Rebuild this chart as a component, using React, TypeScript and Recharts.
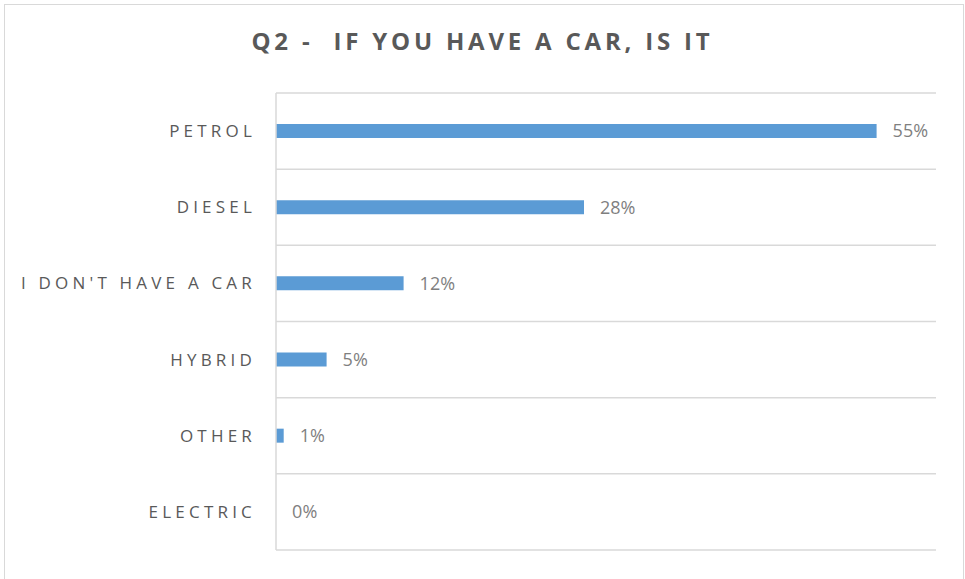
import { BarChart, Bar, XAxis, YAxis, CartesianGrid, LabelList, Cell } from 'recharts'

const categories = ['PETROL', 'DIESEL', "I DON'T HAVE A CAR", 'HYBRID', 'OTHER', 'ELECTRIC']
const shares = [54.6, 28.0, 11.6, 4.6, 0.7, 0]
const valueDomain = [0, 60]

const data = categories.map((name, i) => ({ name, share: shares[i] }))

const FONT = '"Open Sans", "Liberation Sans", sans-serif'

const CategoryTick = (props: any) => {
  const { x, y, payload } = props
  return (
    <text
      x={x - 12}
      y={y}
      dy={6}
      textAnchor="end"
      fill="#595959"
      fontSize={17}
      fontFamily={FONT}
      letterSpacing={4.2}
    >
      {payload.value}
    </text>
  )
}

// band boundaries, one line above and below each category
const bandLines = ({ offset }: any) =>
  [...categories.map((_, i) => i), categories.length].map(
    (i) => offset.top + (i * offset.height) / categories.length
  )

export default function App() {
  return (
    <div style={{ position: 'absolute', left: 0, top: 0, width: 965, height: 579, background: '#fff', overflow: 'hidden' }}>
      <div
        style={{
          position: 'absolute',
          left: 4,
          top: 4,
          width: 958,
          height: 590,
          border: '1px solid #d9d9d9',
        }}
      />
      <div
        style={{
          position: 'absolute',
          left: 0,
          top: 24,
          width: 965,
          textAlign: 'center',
          fontFamily: FONT,
          fontWeight: 700,
          fontSize: 24,
          letterSpacing: 3.8,
          color: '#595959',
          whiteSpace: 'pre',
        }}
      >
        {'Q2 -  IF YOU HAVE A CAR, IS IT'}
      </div>
      <BarChart
        width={965}
        height={579}
        layout="vertical"
        data={data}
        margin={{ top: 93, right: 29, bottom: 29, left: 0 }}
        style={{ position: 'absolute', left: 0, top: 0 }}
      >
        <CartesianGrid
          vertical={false}
          stroke="#d9d9d9"
          strokeWidth={1.5}
          horizontalCoordinatesGenerator={bandLines}
        />
        <XAxis type="number" domain={valueDomain} hide />
        <YAxis
          type="category"
          dataKey="name"
          width={276}
          axisLine={{ stroke: '#d9d9d9', strokeWidth: 1.5 }}
          tickLine={false}
          tick={<CategoryTick />}
        />
        <Bar
          dataKey="share"
          fill="#5b9bd5"
          barSize={14}
          minPointSize={(v: number) => (v === 0 ? 0.1 : 0)}
          isAnimationActive={false}
        >
          {data.map((d) => (
            <Cell key={d.name} fill={d.share === 0 ? 'none' : '#5b9bd5'} />
          ))}
          <LabelList
            dataKey="share"
            position="right"
            offset={16}
            fill="#7f7f7f"
            fontSize={18}
            fontFamily={FONT}
            formatter={(v: any) => `${Math.round(Number(v))}%`}
          />
        </Bar>
      </BarChart>
    </div>
  )
}
